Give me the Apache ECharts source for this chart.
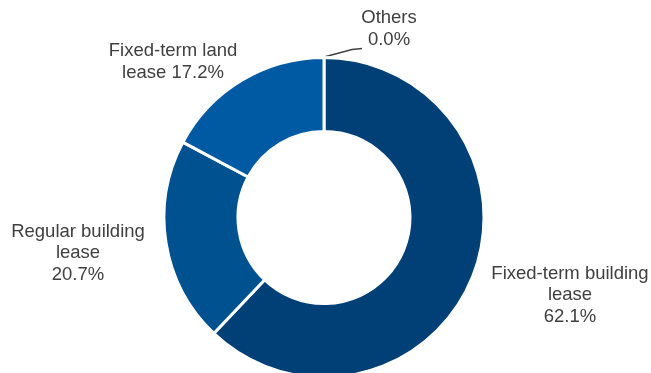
<!DOCTYPE html>
<html>
<head>
<meta charset="utf-8">
<style>
  html, body { margin: 0; padding: 0; background: #fff; }
  #chart { width: 651px; height: 373px; }
</style>
<script src="https://cdn.jsdelivr.net/npm/echarts@6/dist/echarts.min.js"></script>
</head>
<body>
<div id="chart"></div>
<script>
// Lease type shares (%), clockwise from 12 o'clock
const categories = ['Others', 'Fixed-term building lease', 'Regular building lease', 'Fixed-term land lease'];
const shares = [0.0, 62.1, 20.7, 17.2];
// How each category name is wrapped in its label
const labelNames = ['Others\n', 'Fixed-term building\nlease\n', 'Regular building\nlease\n', 'Fixed-term land\nlease '];
const sliceColors = ['#004a88', '#004077', '#00518f', '#005aa3'];

// Label anchor points (label centres)
const labelSpots = [
  { x: 389, y: 29 },
  { x: 570, y: 295 },
  { x: 78, y: 253 },
  { x: 173, y: 62 }
];

const chart = echarts.init(document.getElementById('chart'), null, { renderer: 'canvas' });

chart.setOption({
  animation: false,
  series: [{
    type: 'pie',
    center: [324, 217.5],
    radius: [86, 160],
    startAngle: 90,
    clockwise: true,
    avoidLabelOverlap: false,
    minShowLabelAngle: 0,
    itemStyle: { borderColor: '#ffffff', borderWidth: 3 },
    label: {
      show: true,
      position: 'outside',
      color: '#404040',
      fontFamily: 'Liberation Sans, Arial, sans-serif',
      fontSize: 18.5,
      lineHeight: 21.5,
      align: 'center',
      formatter: function (p) {
        return labelNames[p.dataIndex] + shares[p.dataIndex].toFixed(1) + '%';
      }
    },
    labelLine: { show: false },
    labelLayout: function (params) {
      const s = labelSpots[params.dataIndex];
      const out = { x: s.x, y: s.y, align: 'center', verticalAlign: 'middle' };
      if (params.dataIndex === 0) {
        // leader from the top of the ring up to the "Others" label
        out.labelLinePoints = [[324, 57], [352, 49.5], [362, 48.5]];
      }
      return out;
    },
    data: categories.map(function (c, i) {
      const item = { name: c, value: shares[i], itemStyle: { color: sliceColors[i] } };
      if (i === 0) {
        item.labelLine = {
          show: true,
          smooth: false,
          lineStyle: { color: '#404040', width: 1.3 }
        };
      }
      return item;
    })
  }]
});
</script>
</body>
</html>
